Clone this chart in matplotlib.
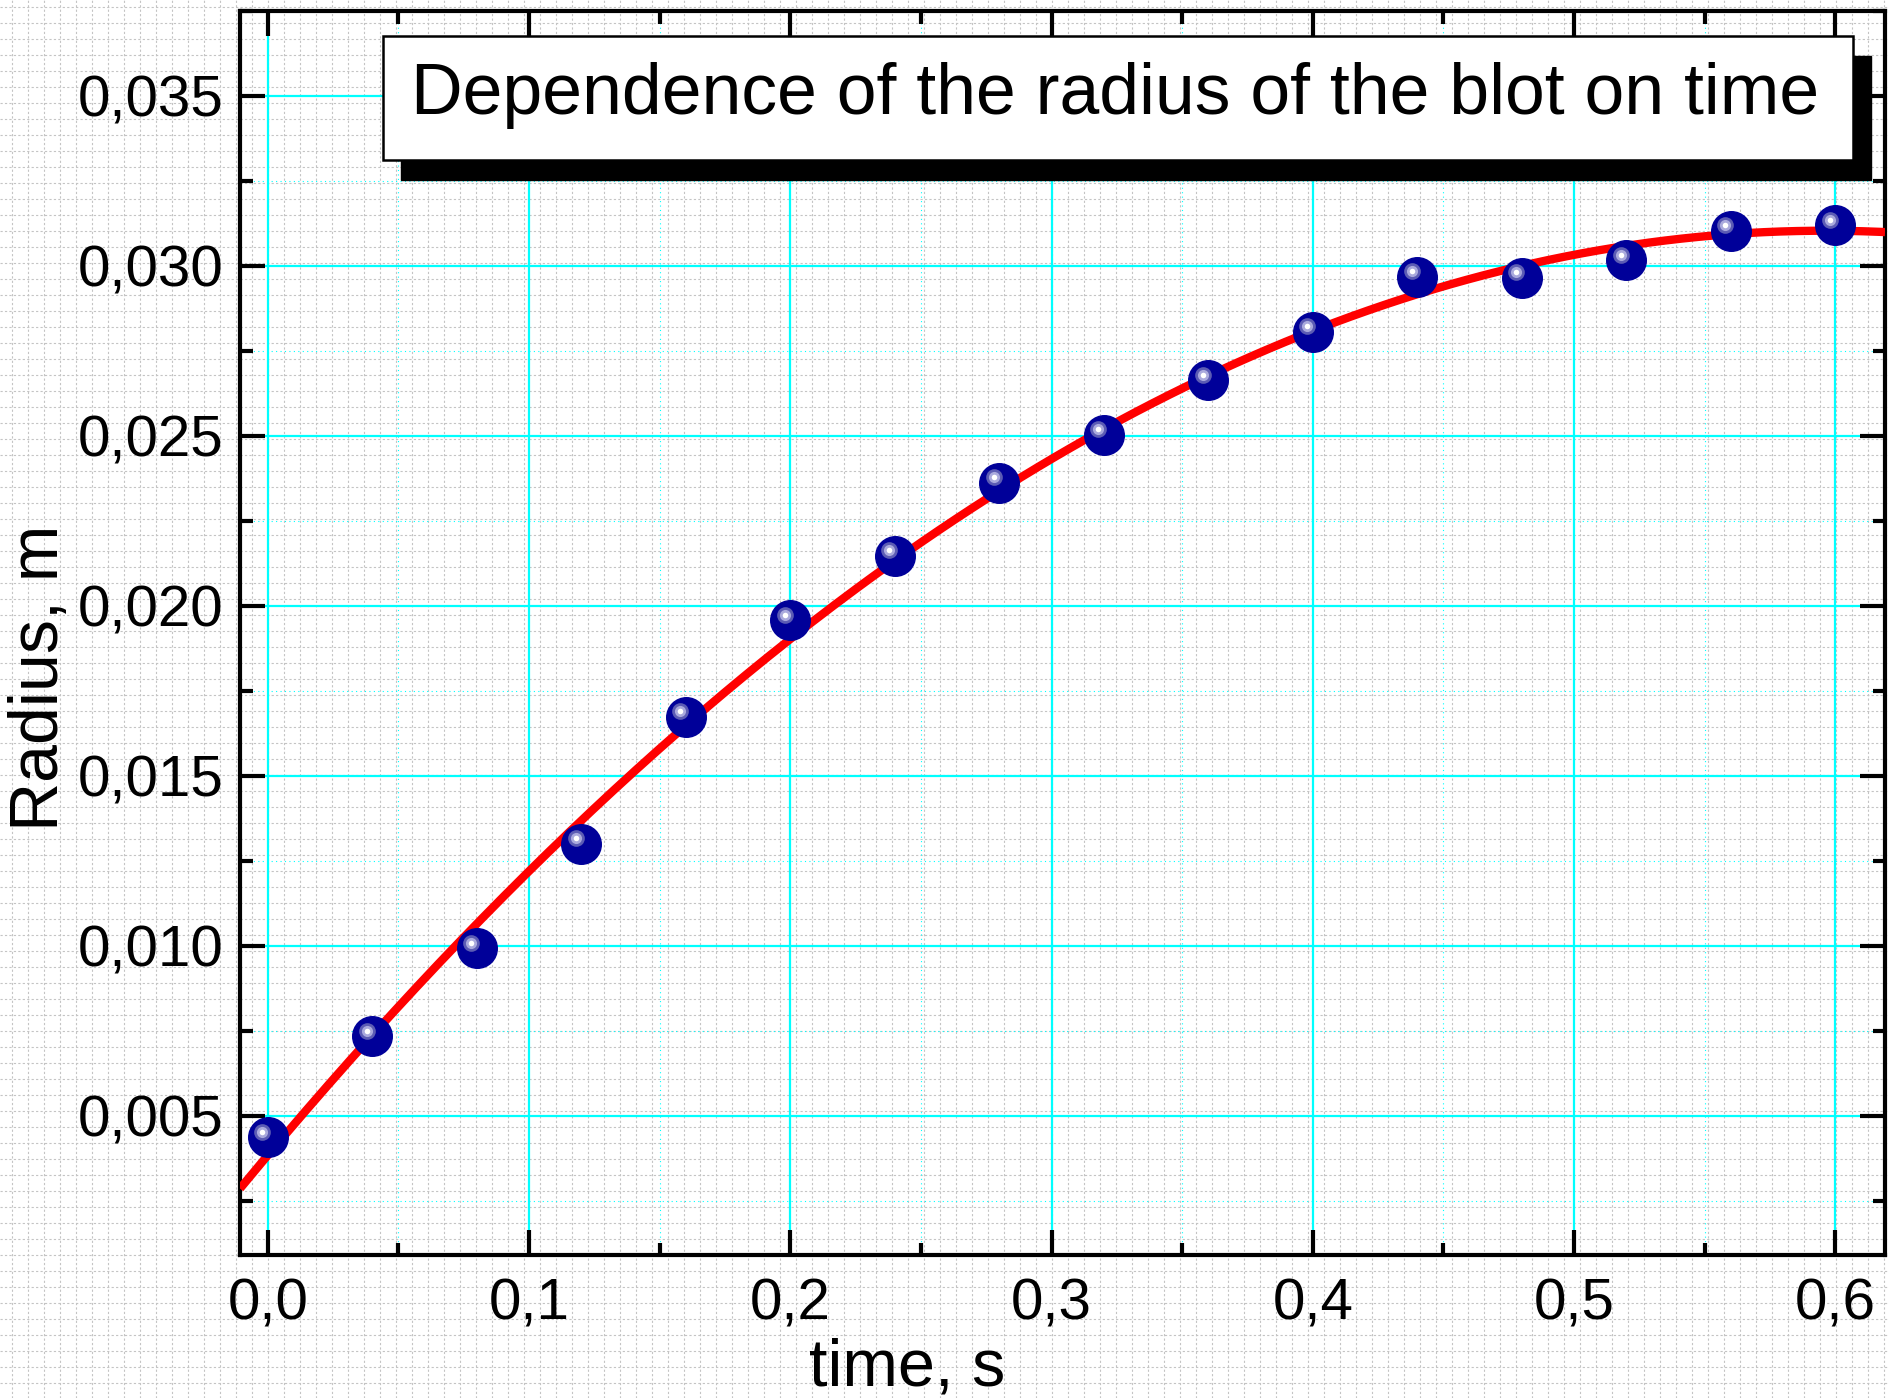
import numpy as np
import matplotlib
matplotlib.use("Agg")
import matplotlib.pyplot as plt
from matplotlib.ticker import MultipleLocator, FixedLocator
from matplotlib.patches import Rectangle
import matplotlib.transforms as mtransforms

# ---------------- data ----------------
time_s = [0.00, 0.04, 0.08, 0.12, 0.16, 0.20, 0.24, 0.28, 0.32, 0.36,
          0.40, 0.44, 0.48, 0.52, 0.56, 0.60]
radius_m = [0.00436, 0.00733, 0.00993, 0.01300, 0.01673, 0.01958, 0.02148,
            0.02362, 0.02503, 0.02663, 0.02806, 0.02968, 0.02965, 0.03017,
            0.03104, 0.03120]

x_ticks = [0.0, 0.1, 0.2, 0.3, 0.4, 0.5, 0.6]
x_ticklabels = ["0,0", "0,1", "0,2", "0,3", "0,4", "0,5", "0,6"]
y_ticks = [0.005, 0.010, 0.015, 0.020, 0.025, 0.030, 0.035]
y_ticklabels = ["0,005", "0,010", "0,015", "0,020", "0,025", "0,030", "0,035"]

title_text = "Dependence of the radius of the blot on time"
xlabel_text = "time, s"
ylabel_text = "Radius, m"

# ---------------- figure ----------------
W, H = 1890, 1398
DPI = 100
plt.rcParams['font.family'] = ['Liberation Sans', 'DejaVu Sans']
fig = plt.figure(figsize=(W / DPI, H / DPI), dpi=DPI, facecolor='white')

# background dotted grid covering the whole figure
bg = fig.add_axes([0, 0, 1, 1], zorder=-5)
bg.set_xlim(0, W)
bg.set_ylim(H, 0)
bg.xaxis.set_major_locator(FixedLocator(np.arange(12, W, 16)))
bg.yaxis.set_major_locator(FixedLocator(np.arange(7, H, 16)))
bg.grid(True, color='#c4c4c4', linestyle=(0, (2, 2)), linewidth=0.8)
bg.tick_params(length=0, labelbottom=False, labelleft=False)
for s in bg.spines.values():
    s.set_visible(False)
bg.set_facecolor('white')

# main axes
L, R, B, T = 240, 1885, 1255, 11
ax = fig.add_axes([L / W, 1 - B / H, (R - L) / W, (B - T) / H], zorder=1)
ax.set_facecolor('none')
ax.set_xlim(-0.0106, 0.619)
ax.set_ylim(0.0009, 0.0375)

ax.xaxis.set_major_locator(FixedLocator(x_ticks))
ax.xaxis.set_minor_locator(MultipleLocator(0.05))
ax.yaxis.set_major_locator(FixedLocator(y_ticks))
ax.yaxis.set_minor_locator(MultipleLocator(0.0025))
ax.set_xticklabels(x_ticklabels)
ax.set_yticklabels(y_ticklabels)

ax.grid(True, which='major', color='#00ffff', linewidth=1.6, linestyle='-', zorder=0)
ax.grid(True, which='minor', color='#00ffff', linewidth=0.8, linestyle=(0, (1, 3)), zorder=0)
ax.set_axisbelow(True)

ax.tick_params(which='both', direction='in', top=True, right=True, width=3, colors='black')
ax.tick_params(which='major', length=18, labelsize=42)
ax.tick_params(which='minor', length=9)
ax.tick_params(axis='y', which='major', pad=12)
ax.tick_params(axis='x', which='major', pad=16)
for s in ax.spines.values():
    s.set_linewidth(3)
    s.set_color('black')

# fitted curve (quadratic least-squares fit of the measured points)
coef = np.polyfit(time_s, radius_m, 2)
tt = np.linspace(ax.get_xlim()[0], ax.get_xlim()[1], 300)
ax.plot(tt, np.polyval(coef, tt), color='red', linewidth=6, zorder=3,
        solid_capstyle='butt')

# markers: dark blue balls with highlight
ax.plot(time_s, radius_m, linestyle='none', marker='o', markersize=28.5,
        markerfacecolor='#000099', markeredgecolor='#000099', zorder=4)
hl = mtransforms.offset_copy(ax.transData, fig=fig, x=-4.0, y=4.0, units='points')
ax.plot(time_s, radius_m, linestyle='none', marker='o', markersize=12,
        markerfacecolor='#5c5cb4', markeredgewidth=0, transform=hl, zorder=5)
ax.plot(time_s, radius_m, linestyle='none', marker='o', markersize=8,
        markerfacecolor='#aaaadd', markeredgewidth=0, transform=hl, zorder=6)
ax.plot(time_s, radius_m, linestyle='none', marker='o', markersize=4,
        markerfacecolor='white', markeredgewidth=0, transform=hl, zorder=7)

# axis labels
fig.text(907 / W, 1 - 1386 / H, xlabel_text, fontsize=48, ha='center', va='baseline')
fig.text(58 / W, 1 - 678 / H, ylabel_text, fontsize=49, rotation=90,
         ha='center', va='baseline', rotation_mode='anchor')

# title box with shadow
bx0, bx1, by0, by1 = 383, 1853, 36, 160
sh = 18
fig.patches.append(Rectangle(((bx0 + sh) / W, 1 - (by1 + sh + 2) / H),
                             (bx1 - bx0) / W, (by1 - by0) / H,
                             transform=fig.transFigure, facecolor='black',
                             edgecolor='black', zorder=8))
fig.patches.append(Rectangle((bx0 / W, 1 - by1 / H), (bx1 - bx0) / W, (by1 - by0) / H,
                             transform=fig.transFigure, facecolor='white',
                             edgecolor='black', linewidth=1.8, zorder=9))
fig.text(411 / W, 1 - 114 / H, title_text, fontsize=51.5, ha='left', va='baseline', zorder=10)

fig.savefig('out.png', dpi=DPI, facecolor='white')
